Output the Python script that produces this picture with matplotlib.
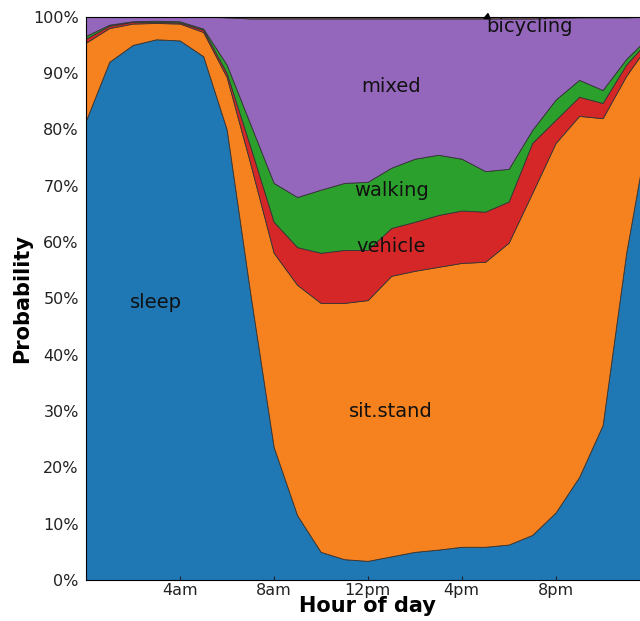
import matplotlib
matplotlib.use("Agg")
import matplotlib.pyplot as plt
from matplotlib.ticker import PercentFormatter

hours = list(range(25))

# probability (%) per hour, hour 24 repeats hour 0
sleep = [81.5, 92, 95, 96, 95.8, 93, 80, 51, 23.6, 11.5, 5, 3.7, 3.4, 4.2, 5, 5.4,
         5.9, 5.9, 6.3, 8, 12, 18.3, 27.5, 58, 81.5]
sit_stand = [13.9, 6, 3.8, 2.9, 3, 4.3, 9.3, 23, 34.5, 40.9, 44.2, 45.5, 46.3, 49.8,
             49.9, 50.2, 50.4, 50.6, 53.6, 60.7, 65.6, 64.1, 54.5, 31.5, 13.9]
vehicle = [0.7, 0.4, 0.3, 0.2, 0.2, 0.4, 0.7, 3, 5.5, 6.7, 8.9, 9.4, 8.9, 8.5, 8.7,
           9.2, 9.3, 8.9, 7.3, 8.9, 4.1, 3.4, 2.7, 2, 0.7]
walking = [0.5, 0.2, 0.1, 0.2, 0.2, 0.2, 1.5, 4, 6.9, 8.9, 11.2, 11.9, 12.1, 10.7,
           11.2, 10.7, 9.2, 7.2, 5.8, 2.3, 3.6, 3, 2.3, 1, 0.5]
mixed = [3.4, 1.4, 0.8, 0.7, 0.8, 2.1, 8.4, 18.7, 29.2, 31.7, 30.4, 29.2, 29.0, 26.5,
         24.9, 24.2, 24.9, 27.1, 26.7, 19.8, 14.5, 11.1, 12.9, 7.4, 3.4]
bicycling = [0, 0, 0, 0, 0, 0, 0.1, 0.3, 0.3, 0.3, 0.3, 0.3, 0.3, 0.3, 0.3, 0.3,
             0.3, 0.3, 0.3, 0.3, 0.2, 0.1, 0.1, 0.1, 0]

tick_hours = [4, 8, 12, 16, 20]
tick_labels = ["4am", "8am", "12pm", "4pm", "8pm"]

fig = plt.figure(figsize=(6.4, 6.21), dpi=100)
ax = fig.add_axes([0.134, 0.066, 0.881, 0.907])

ax.stackplot(hours, sleep, sit_stand, vehicle, walking, mixed, bicycling,
             colors=["#1f77b4", "#f5811f", "#d62728", "#2ca02c", "#9467bd", "#8c564b"],
             edgecolor="#333333", linewidth=0.6)

ax.set_xlim(0, 24)
ax.set_ylim(0, 100)
ax.set_xticks(tick_hours)
ax.set_xticklabels(tick_labels)
ax.set_yticks(range(0, 101, 10))
ax.yaxis.set_major_formatter(PercentFormatter(decimals=0))
ax.tick_params(axis="both", labelsize=11.5, colors="#222222")
ax.tick_params(axis="x", direction="in", length=3, pad=2)
ax.tick_params(axis="y", length=0, pad=5)

ax.set_xlabel("Hour of day", fontsize=15, fontweight="bold", labelpad=-1)
ax.set_ylabel("Probability", fontsize=15, fontweight="bold", labelpad=1)

lab = dict(fontsize=14, ha="center", va="center", color="#111111")
ax.text(3, 49.2, "sleep", **lab)
ax.text(13, 30, "sit.stand", **lab)
ax.text(13, 59.3, "vehicle", **lab)
ax.text(13, 69.1, "walking", **lab)
ax.text(13, 87.6, "mixed", **lab)
ax.annotate("bicycling", xy=(16.95, 99.7), xytext=(17.05, 98.2), fontsize=14,
            ha="left", va="center", color="#111111",
            arrowprops=dict(facecolor="black", width=0.4, headwidth=4, headlength=4, shrink=0))

fig.savefig("out.png", dpi=100)
